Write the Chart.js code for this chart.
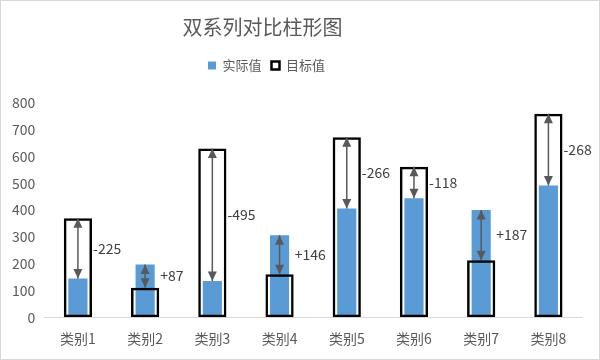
<!DOCTYPE html>
<html>
<head>
<meta charset="utf-8">
<script src="https://cdn.jsdelivr.net/npm/chart.js@4"></script>
<style>
    html, body { margin: 0; padding: 0; background: #fff; }
    #wrap {
        width: 600px;
        height: 360px;
        box-sizing: border-box;
        border: 1px solid #d9d9d9;
        position: relative;
    }
</style>
</head>
<body>
<div id="wrap"><canvas id="chart"></canvas></div>
<script>
Chart.defaults.font.family = "'Noto Sans CJK SC', 'Liberation Sans', sans-serif";
Chart.defaults.color = '#595959';

// Data
const categories = ['类别1', '类别2', '类别3', '类别4', '类别5', '类别6', '类别7', '类别8'];
const actualValues = [145, 197, 135, 306, 406, 444, 400, 492];
const targetValues = [370, 110, 630, 160, 672, 562, 213, 760];
const seriesNames = ['实际值', '目标值'];

const COLORS = {
    actual: '#5b9bd5',
    target: '#000000',
    arrow: '#595959',
    label: '#404040',
    axis: '#d9d9d9',
};

// title + legend sit a bit left of centre in the original
const TITLE_SHIFT = -30;
const LEGEND_SHIFT = -26;

const headerShift = {
    id: 'headerShift',
    beforeInit(chart) {
        // extra room under the legend
        const legend = chart.legend;
        const origFit = legend.fit;
        legend.fit = function () {
            origFit.call(this);
            this.height += 21;
        };
    },
    afterLayout(chart) {
        chart.titleBlock.left += TITLE_SHIFT;
        chart.titleBlock.right += TITLE_SHIFT;
        chart.legend.left += LEGEND_SHIFT;
        chart.legend.right += LEGEND_SHIFT;
    }
};

// Double-headed arrows between actual and target, plus difference label
const diffArrows = {
    id: 'diffArrows',
    afterDatasetsDraw(chart) {
        const ctx = chart.ctx;
        const yScale = chart.scales.y;
        const targetMeta = chart.getDatasetMeta(1);
        const actualMeta = chart.getDatasetMeta(0);

        ctx.save();
        for (let i = 0; i < categories.length; i++) {
            const box = targetMeta.data[i];
            const bar = actualMeta.data[i];
            const x = box.x;
            const yA = yScale.getPixelForValue(actualValues[i]);
            const yT = yScale.getPixelForValue(targetValues[i]);

            ctx.strokeStyle = COLORS.arrow;
            ctx.fillStyle = COLORS.arrow;
            ctx.lineWidth = 1.5;
            ctx.beginPath();
            ctx.moveTo(x, yA);
            ctx.lineTo(x, yT);
            ctx.stroke();

            // arrowheads point at both ends
            const dir = yA > yT ? 1 : -1;
            const head = (tip, d) => {
                ctx.beginPath();
                ctx.moveTo(x, tip);
                ctx.lineTo(x - 4.5, tip + d * 9.5);
                ctx.lineTo(x + 4.5, tip + d * 9.5);
                ctx.closePath();
                ctx.fill();
            };
            head(yT, dir);
            head(yA, -dir);

            const diff = actualValues[i] - targetValues[i];
            const text = (diff > 0 ? '+' : '') + diff;
            const right = Math.max(box.x + box.width / 2, bar.x + bar.width / 2);
            ctx.font = "14px 'Noto Sans CJK SC', 'Liberation Sans', sans-serif";
            ctx.fillStyle = COLORS.label;
            ctx.textAlign = 'left';
            ctx.textBaseline = 'middle';
            ctx.fillText(text, right + 1, (yA + yT) / 2);
        }
        ctx.restore();
    }
};

new Chart(document.getElementById('chart'), {
    type: 'bar',
    data: {
        labels: categories,
        datasets: [
            {
                label: seriesNames[0],
                data: actualValues,
                backgroundColor: COLORS.actual,
                borderWidth: 0,
                barPercentage: 0.285,
                categoryPercentage: 1,
                grouped: false,
                order: 1,
            },
            {
                label: seriesNames[1],
                data: targetValues,
                backgroundColor: 'rgba(0,0,0,0)',
                borderColor: COLORS.target,
                borderWidth: 2.5,
                borderSkipped: false,
                barPercentage: 0.42,
                categoryPercentage: 1,
                grouped: false,
                order: 0,
            }
        ]
    },
    options: {
        responsive: true,
        maintainAspectRatio: false,
        animation: false,
        layout: {
            padding: { left: 2, right: 17, top: 4, bottom: 7 }
        },
        plugins: {
            title: {
                display: true,
                text: '双系列对比柱形图',
                color: '#595959',
                font: { size: 20, weight: 'normal' },
                padding: { top: 10, bottom: 10 }
            },
            legend: {
                position: 'top',
                labels: {
                    boxWidth: 8,
                    boxHeight: 8,
                    padding: 10,
                    color: '#595959',
                    font: { size: 13 },
                    sort: (a, b) => a.datasetIndex - b.datasetIndex,
                }
            },
            tooltip: { enabled: false }
        },
        scales: {
            x: {
                grid: { display: false },
                border: { color: COLORS.axis },
                ticks: { color: '#595959', font: { size: 14 }, padding: 5 }
            },
            y: {
                min: 0,
                max: 800,
                grid: { display: false, drawTicks: false },
                border: { display: false },
                ticks: { stepSize: 100, color: '#595959', font: { size: 14 }, padding: 9 }
            }
        }
    },
    plugins: [headerShift, diffArrows]
});
</script>
</body>
</html>
